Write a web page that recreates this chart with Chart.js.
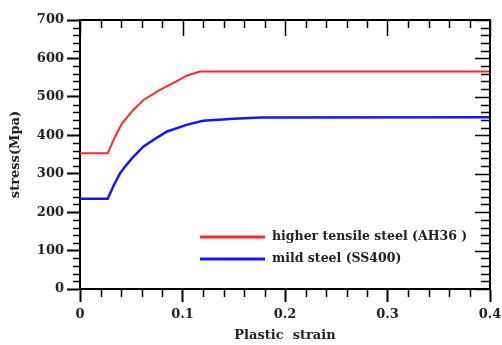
<!DOCTYPE html>
<html>
<head>
<meta charset="utf-8">
<script src="https://cdn.jsdelivr.net/npm/chart.js@4"></script>
<style>
  html, body { margin: 0; padding: 0; background: #fff; }
  #chart { display: block; }
</style>
</head>
<body>
<canvas id="chart" width="502" height="345"></canvas>
<script>
const SERIES_NAMES = ['higher tensile steel (AH36 )', 'mild steel (SS400)'];

const AH36_STRAIN = [0, 0.027, 0.034, 0.041, 0.052, 0.062, 0.078, 0.094, 0.104, 0.117, 0.4];
const AH36_STRESS = [353, 353, 395, 431, 466, 492, 518, 540, 555, 566, 566];

const SS400_STRAIN = [0, 0.027, 0.033, 0.039, 0.046, 0.052, 0.062, 0.074, 0.085, 0.104, 0.12, 0.15, 0.176, 0.4];
const SS400_STRESS = [235, 235, 270, 301, 325, 344, 371, 392, 410, 427, 438, 443, 446, 447];

const X_MAJOR = [0, 0.1, 0.2, 0.3, 0.4];
const Y_MAJOR = [0, 100, 200, 300, 400, 500, 600, 700];

const FONT = 'DejaVu Serif';
const toPoints = (xs, ys) => xs.map((x, i) => ({ x, y: ys[i] }));

// minor ticks, top/right frame and the in-plot legend
const framePlugin = {
  id: 'frame',
  afterDraw(chart) {
    const { ctx, chartArea: a, scales } = chart;
    const xs = scales.x;
    const ys = scales.y;
    ctx.save();
    ctx.strokeStyle = '#000';
    ctx.lineWidth = 2;
    ctx.beginPath();
    ctx.moveTo(a.left, a.top);
    ctx.lineTo(a.right, a.top);
    ctx.lineTo(a.right, a.bottom);
    ctx.stroke();

    ctx.lineWidth = 1.5;
    ctx.beginPath();
    for (let i = 0; i <= 20; i++) {
      const v = i * 0.02;
      const px = Math.round(xs.getPixelForValue(v)) + 0.5;
      const major = i % 5 === 0;
      if (!major) {
        ctx.moveTo(px, a.bottom);
        ctx.lineTo(px, a.bottom + 8);
      }
      ctx.moveTo(px, a.top);
      ctx.lineTo(px, a.top + (major ? 16 : 8));
    }
    for (let i = 0; i <= 35; i++) {
      const v = i * 20;
      const py = Math.round(ys.getPixelForValue(v)) + 0.5;
      const major = i % 5 === 0;
      if (!major) {
        ctx.moveTo(a.left - 7, py);
        ctx.lineTo(a.left, py);
      }
      ctx.moveTo(a.right, py);
      ctx.lineTo(a.right - (major ? 15 : 9), py);
    }
    ctx.stroke();

    // legend
    const legendY = [237, 259];
    ctx.font = `bold 12.5px "${FONT}"`;
    ctx.textBaseline = 'middle';
    ctx.fillStyle = '#222';
    chart.data.datasets.forEach((ds, i) => {
      ctx.strokeStyle = ds.borderColor;
      ctx.lineWidth = 3;
      ctx.beginPath();
      ctx.moveTo(200, legendY[i]);
      ctx.lineTo(265, legendY[i]);
      ctx.stroke();
      ctx.fillText(ds.label, 272, legendY[i]);
    });
    ctx.restore();
  },
};

new Chart(document.getElementById('chart'), {
  type: 'line',
  data: {
    datasets: [
      {
        label: SERIES_NAMES[0],
        data: toPoints(AH36_STRAIN, AH36_STRESS),
        borderColor: '#ff2828',
        borderWidth: 2,
        pointRadius: 0,
        tension: 0,
      },
      {
        label: SERIES_NAMES[1],
        data: toPoints(SS400_STRAIN, SS400_STRESS),
        borderColor: '#1414ff',
        borderWidth: 2.5,
        pointRadius: 0,
        tension: 0,
      },
    ],
  },
  options: {
    responsive: false,
    animation: false,
    layout: { padding: { left: 8, right: 12, top: 20, bottom: 2 } },
    plugins: {
      legend: { display: false },
      tooltip: { enabled: false },
    },
    scales: {
      x: {
        type: 'linear',
        min: 0,
        max: 0.4,
        afterBuildTicks: (scale) => { scale.ticks = X_MAJOR.map((value) => ({ value })); },
        afterFit: (scale) => {
          scale.height = 54;
          scale.paddingLeft = 0;
          scale.paddingRight = 0;
        },
        border: { display: true, color: '#000', width: 2 },
        grid: { drawOnChartArea: false, color: '#000', tickLength: 13, tickWidth: 2 },
        ticks: {
          color: '#222',
          padding: 5,
          maxRotation: 0,
          font: { family: FONT, size: 13, weight: 'bold' },
          callback: (v) => String(v),
        },
        title: {
          display: true,
          text: 'Plastic  strain',
          color: '#222',
          padding: { top: 0, bottom: 0 },
          font: { family: FONT, size: 13, weight: 'bold' },
        },
      },
      y: {
        min: 0,
        max: 700,
        afterBuildTicks: (scale) => { scale.ticks = Y_MAJOR.map((value) => ({ value })); },
        afterFit: (scale) => { scale.width = 72; },
        border: { display: true, color: '#000', width: 2 },
        grid: { drawOnChartArea: false, color: '#000', tickLength: 13, tickWidth: 2 },
        ticks: {
          color: '#222',
          padding: 3,
          font: { family: FONT, size: 13, weight: 'bold' },
        },
        title: {
          display: true,
          text: 'stress(Mpa)',
          color: '#222',
          padding: { top: 0, bottom: 0 },
          font: { family: FONT, size: 13, weight: 'bold' },
        },
      },
    },
  },
  plugins: [framePlugin],
});
</script>
</body>
</html>
